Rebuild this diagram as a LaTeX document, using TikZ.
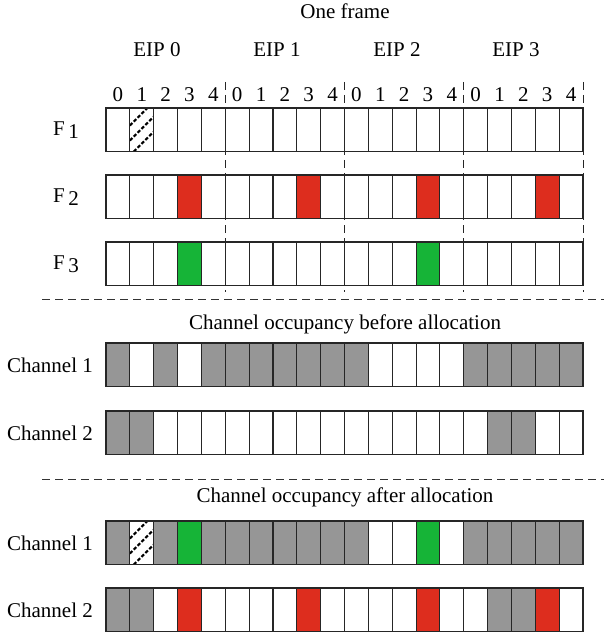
\documentclass[tikz,border=0pt]{standalone}
\usepackage{fontspec}
\setmainfont{Liberation Serif}
\definecolor{occgray}{RGB}{150,150,150}
\definecolor{slotred}{RGB}{221,45,30}
\definecolor{slotgreen}{RGB}{22,180,55}
\begin{document}
\begin{tikzpicture}[x=1pt,y=-1pt,
  every node/.style={font=\fontsize{21}{24}\selectfont},
  cell/.style={draw=black!85, line width=1.1pt, minimum width=23.85pt,
    minimum height=43.5pt, inner sep=0pt, outer sep=0pt, anchor=north west},
  free/.style={fill=white},
  busy/.style={fill=occgray},
  redslot/.style={fill=slotred},
  greenslot/.style={fill=slotgreen},
  hatched/.style={fill=white, path picture={
    \foreach \k in {0,1,2}
      \draw[black, line width=2.2pt, dash pattern=on 3.5pt off 2pt]
        ([yshift=-4pt+\k*15pt]path picture bounding box.south west) --
        ++(26pt,26pt);}},
  sep/.style={black!80, line width=1pt, dash pattern=on 8pt off 5pt},
  vsep/.style={black!85, line width=1pt, dash pattern=on 8pt off 5pt},
  rowlabel/.style={anchor=center}]
\useasboundingbox (0,0) rectangle (604,639);

% horizontal geometry of the frame
\def\xo{106}
\def\cw{23.85}

% titles
\node (title) at (345,11) {One frame};
\node (eip0) at (157,50) {EIP 0};
\node (eip1) at (277,50) {EIP 1};
\node (eip2) at (397,50) {EIP 2};
\node (eip3) at (516,50) {EIP 3};

% slot numbers
\foreach \i in {0,...,19}{
  \pgfmathtruncatemacro{\s}{mod(\i,5)}
  \node (num\i) at ({\xo+(\i+0.5)*\cw},95) {\s};
}

% one row of 20 slots: #1 name, #2 top y, #3 list of slot styles
\newcommand{\slotrow}[3]{%
  \foreach \c [count=\i from 0] in {#3}
    \node[cell,\c] (#1-\i) at ({\xo+\i*\cw},#2) {};
}

% requested slots of the three flows
\slotrow{fa}{108}{free,hatched,free,free,free,free,free,free,free,free,free,free,free,free,free,free,free,free,free,free}
\slotrow{fb}{175}{free,free,free,redslot,free,free,free,free,redslot,free,free,free,free,redslot,free,free,free,free,redslot,free}
\slotrow{fc}{242}{free,free,free,greenslot,free,free,free,free,free,free,free,free,free,greenslot,free,free,free,free,free,free}

\node[rowlabel] (lfa) at (66,130) {F\,\raisebox{-0.3ex}{1}};
\node[rowlabel] (lfb) at (66,197) {F\,\raisebox{-0.3ex}{2}};
\node[rowlabel] (lfc) at (66,264) {F\,\raisebox{-0.3ex}{3}};

% EIP boundaries
\foreach \k in {1,2,3,4}
  \draw[vsep] ({\xo+5*\k*\cw},82) -- ({\xo+5*\k*\cw},292);

% channel occupancy before allocation
\draw[sep] (42,299) -- (604,299);
\node (before) at (345,324) {Channel occupancy before allocation};
\slotrow{ba}{343}{busy,free,busy,free,busy,busy,busy,busy,busy,busy,busy,free,free,free,free,busy,busy,busy,busy,busy}
\slotrow{bb}{411}{busy,busy,free,free,free,free,free,free,free,free,free,free,free,free,free,free,busy,busy,free,free}
\node[rowlabel] (lba) at (50,365) {Channel 1};
\node[rowlabel] (lbb) at (50,433) {Channel 2};

% channel occupancy after allocation
\draw[sep] (42,479) -- (604,479);
\node (after) at (345,497) {Channel occupancy after allocation};
\slotrow{aa}{521}{busy,hatched,busy,greenslot,busy,busy,busy,busy,busy,busy,busy,free,free,greenslot,free,busy,busy,busy,busy,busy}
\slotrow{ab}{588}{busy,busy,free,redslot,free,free,free,free,redslot,free,free,free,free,redslot,free,free,busy,busy,redslot,free}
\node[rowlabel] (laa) at (50,543) {Channel 1};
\node[rowlabel] (lab) at (50,610) {Channel 2};
\end{tikzpicture}
\end{document}
